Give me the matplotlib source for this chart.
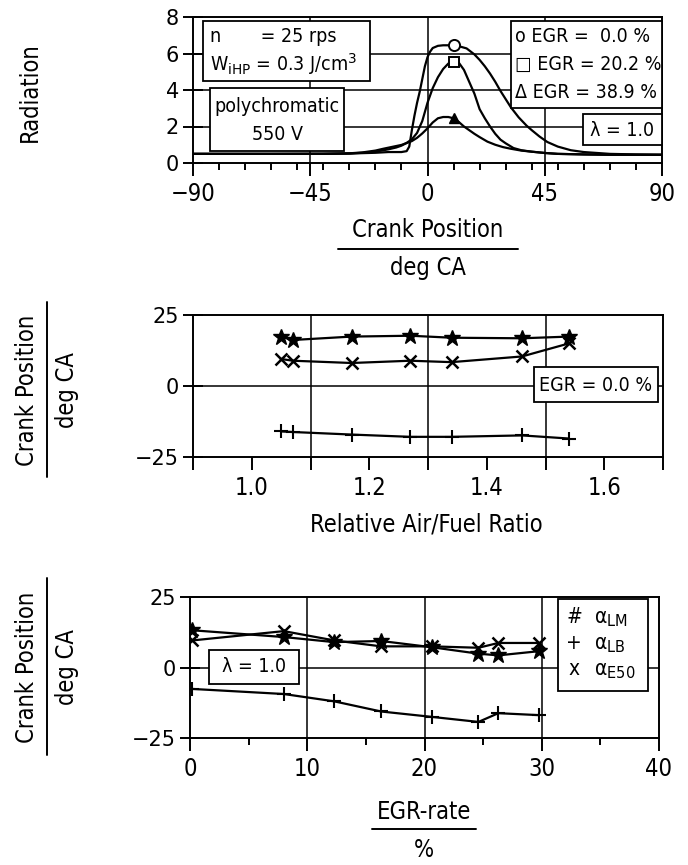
import matplotlib
matplotlib.use("Agg")
import matplotlib.pyplot as plt
from matplotlib import font_manager
from matplotlib.lines import Line2D
from matplotlib.patches import Rectangle
from matplotlib.ticker import MultipleLocator, FixedLocator

# --- crank-angle resolved radiation, three EGR rates ---
theta_0 = [-90, -60, -30, -20, -15, -10, -8, -7, -6, -5, -4, -3, -2, -1, 0, 1, 2, 4, 6, 8, 10,
           12, 15, 18, 20, 22, 24, 26, 28, 30, 32, 35, 38, 40, 43, 46, 50, 55, 60, 70, 80, 90]
rad_0 = [0.5, 0.5, 0.52, 0.56, 0.6, 0.6, 0.65, 0.9, 1.8, 2.6, 3.3, 3.9, 4.6, 5.3, 5.8, 6.1, 6.3, 6.42, 6.45, 6.45, 6.45,
         6.4, 6.28, 5.95, 5.65, 5.3, 4.9, 4.45, 3.95, 3.5, 3.05, 2.5, 2.05, 1.8, 1.45, 1.15, 0.9, 0.7, 0.6, 0.5, 0.47, 0.45]

theta_20 = [-90, -60, -40, -30, -25, -20, -15, -12, -10, -8, -6, -4, -2, 0, 2, 4, 6, 8, 10,
            12, 14, 16, 18, 20, 22, 24, 26, 28, 30, 33, 36, 40, 45, 50, 60, 70, 90]
rad_20 = [0.5, 0.5, 0.5, 0.52, 0.56, 0.62, 0.75, 0.85, 0.95, 1.1, 1.3, 1.65, 2.3, 3.3, 4.1, 4.7, 5.15, 5.45, 5.55,
          5.5, 5.1, 4.45, 3.8, 2.95, 2.45, 2.0, 1.6, 1.28, 1.08, 0.82, 0.7, 0.62, 0.55, 0.5, 0.47, 0.45, 0.45]

theta_39 = [-90, -60, -40, -30, -25, -20, -17, -14, -10, -6, -4, -2, 0, 2, 4, 6, 8, 10,
            12, 14, 16, 18, 20, 23, 26, 29, 32, 36, 40, 45, 50, 60, 70, 90]
rad_39 = [0.5, 0.5, 0.5, 0.53, 0.58, 0.68, 0.78, 0.87, 0.99, 1.2, 1.38, 1.62, 1.9, 2.22, 2.45, 2.52, 2.52, 2.45,
          2.25, 2.0, 1.8, 1.6, 1.42, 1.17, 1.0, 0.87, 0.78, 0.68, 0.62, 0.55, 0.5, 0.47, 0.45, 0.45]

mark_theta = 10

# --- burn angles vs relative air/fuel ratio (EGR = 0 %) ---
afr = [1.05, 1.07, 1.17, 1.27, 1.34, 1.46, 1.54]
afr_lm = [17.4, 16.2, 17.4, 17.7, 17.0, 16.8, 17.4]
afr_e50 = [9.5, 8.9, 8.1, 8.9, 8.4, 10.4, 15.0]
afr_lb = [-16.0, -16.2, -17.1, -17.9, -17.9, -17.4, -18.5]

# --- burn angles vs EGR rate (lambda = 1.0) ---
egr = [0.2, 8.0, 12.3, 16.3, 20.6, 24.6, 26.3, 29.8]
egr_lm = [13.2, 10.8, 9.0, 9.4, 7.2, 4.9, 4.3, 5.8]
egr_e50 = [9.6, 12.9, 9.6, 7.5, 7.5, 7.0, 8.7, 8.7]
egr_lb = [-7.6, -9.4, -12.0, -15.6, -17.5, -19.3, -16.2, -16.9]

legend_egr = ["o EGR =  0.0 %", "\u25a1 EGR = 20.2 %", "\u0394 EGR = 38.9 %"]

# pick a narrow face for the lettering if one is around
names = {f.name for f in font_manager.fontManager.ttflist}
if "Liberation Sans Narrow" in names:
    NARROW = dict(family="Liberation Sans Narrow")
else:
    NARROW = dict(family="DejaVu Sans", stretch="condensed")

plt.rcParams["font.family"] = ["DejaVu Sans"]
plt.rcParams["axes.linewidth"] = 1.4
plt.rcParams["lines.solid_capstyle"] = "round"

W, H = 688, 865
fig = plt.figure(figsize=(W / 100, H / 100), dpi=100)


def fx(x):
    return x / W


def fy(y):
    return 1 - y / H


def make_axes(x0, y0, x1, y1):
    return fig.add_axes([fx(x0), fy(y1), (x1 - x0) / W, (y1 - y0) / H])


def box(x0, y0, x1, y1):
    fig.add_artist(Rectangle((fx(x0), fy(y1)), (x1 - x0) / W, (y1 - y0) / H,
                             transform=fig.transFigure, facecolor="white",
                             edgecolor="black", linewidth=1.3, zorder=5))


def ftext(x, y, s, size=14, ha="center", rot=0, **kw):
    fig.text(fx(x), fy(y), s, ha=ha, va="center", fontsize=size, rotation=rot,
             zorder=6, **kw)


def hline(x0, x1, y):
    fig.add_artist(Line2D([fx(x0), fx(x1)], [fy(y), fy(y)], color="black", lw=1.4))


def vline(x, y0, y1):
    fig.add_artist(Line2D([fx(x), fx(x)], [fy(y0), fy(y1)], color="black", lw=1.4))


def style(ax):
    ax.tick_params(axis="x", which="major", direction="out", length=9, width=1.4,
                   labelsize=17, pad=5)
    ax.tick_params(axis="x", which="minor", direction="out", length=5, width=1.4)
    ax.tick_params(axis="y", which="major", direction="inout", length=14, width=1.4,
                   labelsize=15, pad=3)
    for lab in ax.get_xticklabels():
        lab.set_fontfamily(NARROW["family"])
        if "stretch" in NARROW:
            lab.set_fontstretch(NARROW["stretch"])


lw = 1.6

# ---------------- top panel: radiation ----------------
ax1 = make_axes(193, 17, 662, 163)
ax1.set_xlim(-90, 90)
ax1.set_ylim(0, 8)
i0 = theta_0.index(mark_theta)
i20 = theta_20.index(mark_theta)
i39 = theta_39.index(mark_theta)
ax1.plot(theta_0, rad_0, color="black", lw=lw, marker="o", markevery=[i0], ms=8,
         mfc="white", mec="black", mew=1.4)
ax1.plot(theta_20, rad_20, color="black", lw=lw, marker="s", markevery=[i20], ms=7,
         mfc="white", mec="black", mew=1.4)
ax1.plot(theta_39, rad_39, color="black", lw=lw, marker="^", markevery=[i39], ms=7,
         mfc="black", mec="black")
for g in (2, 4, 6):
    ax1.axhline(g, color="black", lw=1.1, zorder=0)
for g in (-45, 0, 45):
    ax1.axvline(g, color="black", lw=1.1, zorder=0)
ax1.set_xticks([-90, -45, 0, 45, 90])
ax1.xaxis.set_minor_locator(MultipleLocator(10))
ax1.set_yticks([0, 2, 4, 6, 8])
style(ax1)

box(203, 21, 370, 81)
ftext(210, 37, "n       = 25 rps", ha="left", **NARROW)
ftext(210, 64, "W$_{\\rm iHP}$ = 0.3 J/cm$^3$", ha="left", **NARROW)
box(210, 88, 344, 151)
ftext(277, 106, "polychromatic", **NARROW)
ftext(277, 135, "550 V", **NARROW)
box(511, 21, 662, 108)
for k, s in enumerate(legend_egr):
    ftext(515, 36 + 28 * k, s, ha="left", **NARROW)
box(583, 114, 662, 145)
ftext(622, 130, "\u03bb = 1.0", **NARROW)

ftext(30, 92, "Radiation", size=17, rot=90, **NARROW)
ftext(428, 230, "Crank Position", size=17, **NARROW)
hline(338, 518, 249)
ftext(428, 268, "deg CA", size=17, **NARROW)

# ---------------- middle panel: air/fuel ratio ----------------
ax2 = make_axes(193, 315, 663, 457)
ax2.set_xlim(0.9, 1.7)
ax2.set_ylim(-25, 25)
ax2.plot(afr, afr_lm, color="black", lw=lw, marker="*", ms=12, mfc="black", mec="black")
ax2.plot(afr, afr_e50, color="black", lw=lw, marker="x", ms=8, mew=1.8)
ax2.plot(afr, afr_lb, color="black", lw=lw, marker="+", ms=10, mew=1.5)
ax2.axhline(0, color="black", lw=1.1, zorder=0)
for g in (1.1, 1.3, 1.5):
    ax2.axvline(g, color="black", lw=1.1, zorder=0)
ax2.xaxis.set_major_locator(FixedLocator([1.0, 1.2, 1.4, 1.6]))
ax2.xaxis.set_minor_locator(FixedLocator([0.9, 1.1, 1.3, 1.5, 1.7]))
ax2.set_xticklabels(["1.0", "1.2", "1.4", "1.6"])
ax2.set_yticks([-25, 0, 25])
style(ax2)
ax2.tick_params(axis="x", which="minor", length=9)

box(534, 367, 658, 402)
ftext(596, 385, "EGR = 0.0 %", **NARROW)

ftext(426, 524, "Relative Air/Fuel Ratio", size=17, **NARROW)
ftext(27, 390, "Crank Position", size=17, rot=90, **NARROW)
vline(47, 302, 477)
ftext(67, 390, "deg CA", size=17, rot=90, **NARROW)

# ---------------- bottom panel: EGR rate ----------------
ax3 = make_axes(190, 597, 659, 738)
ax3.set_xlim(0, 40)
ax3.set_ylim(-25, 25)
ax3.plot(egr, egr_lm, color="black", lw=lw, marker="*", ms=12, mfc="black", mec="black")
ax3.plot(egr, egr_e50, color="black", lw=lw, marker="x", ms=8, mew=1.8)
ax3.plot(egr, egr_lb, color="black", lw=lw, marker="+", ms=10, mew=1.5)
ax3.axhline(0, color="black", lw=1.1, zorder=0)
for g in (10, 20, 30):
    ax3.axvline(g, color="black", lw=1.1, zorder=0)
ax3.set_xticks([0, 10, 20, 30, 40])
ax3.xaxis.set_minor_locator(MultipleLocator(5))
ax3.set_yticks([-25, 0, 25])
style(ax3)

box(209, 650, 299, 684)
ftext(254, 667, "\u03bb = 1.0", **NARROW)
box(558, 599, 648, 691)
for k, (sym, sub) in enumerate([("#", "LM"), ("+", "LB"), ("x", "E50")]):
    ftext(574, 617 + 26 * k, sym, size=15, **NARROW)
    ftext(594, 619 + 26 * k, "\u03b1$_{\\rm %s}$" % sub, size=15, ha="left", **NARROW)

ftext(424, 812, "EGR-rate", size=17, **NARROW)
hline(372, 476, 829)
ftext(424, 850, "%", size=17, **NARROW)
ftext(27, 667, "Crank Position", size=17, rot=90, **NARROW)
vline(47, 578, 755)
ftext(67, 667, "deg CA", size=17, rot=90, **NARROW)

fig.savefig("out.png", dpi=100)
